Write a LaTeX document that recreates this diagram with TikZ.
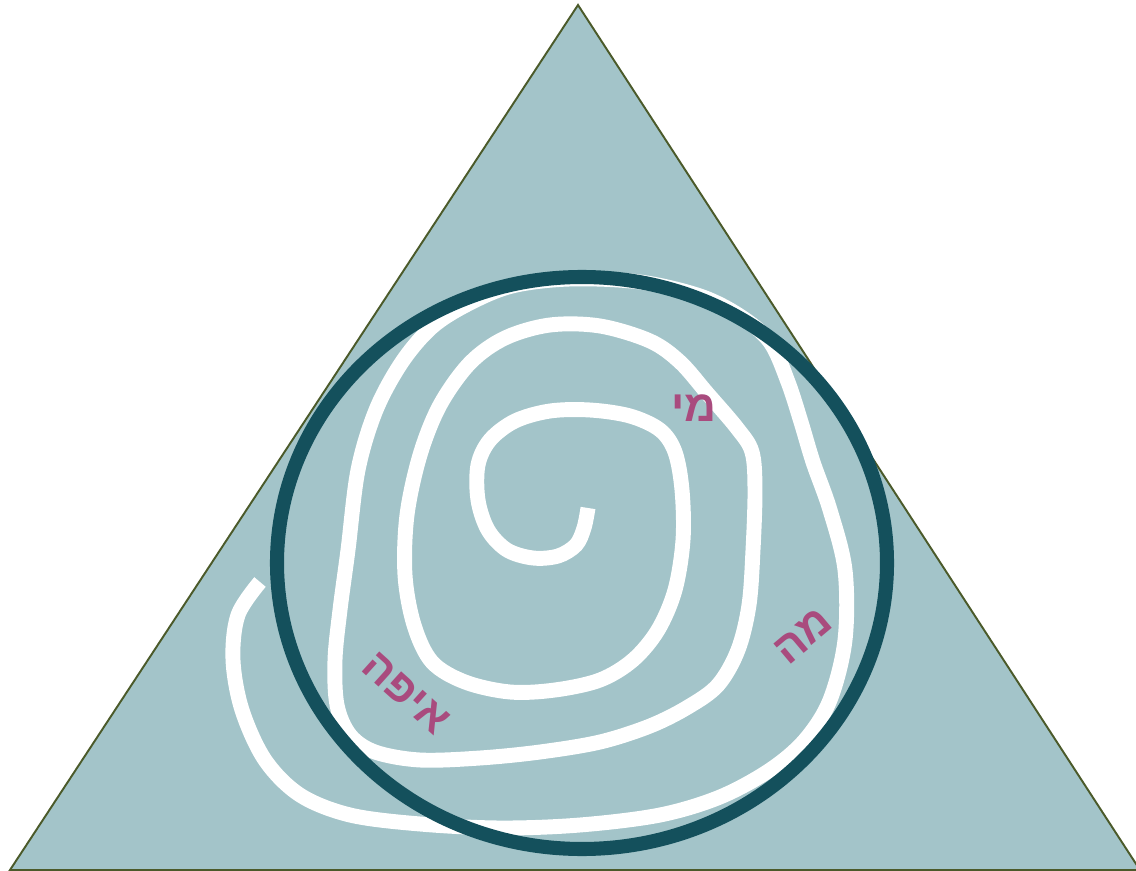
\documentclass[tikz,border=0pt]{standalone}
\usepackage{fontspec}
\newfontfamily\hebfont[Script=Hebrew]{Liberation Sans}
\TeXXeTstate=1
\usetikzlibrary{positioning}
\definecolor{trifill}{HTML}{A3C4C9}
\definecolor{triedge}{HTML}{4B5A2A}
\definecolor{ringcol}{HTML}{14505C}
\definecolor{lblcol}{HTML}{A94B7E}
\tikzset{
  tri/.style={fill=trifill,draw=triedge,line width=1.1pt},
  ring/.style={draw=ringcol,line width=8pt},
  spiral/.style={draw=white,line width=8.5pt},  % white path winding inwards
  lbl/.style={text=lblcol,font=\hebfont\bfseries\fontsize{25}{28}\selectfont,inner sep=0pt},
}
\begin{document}
\begin{tikzpicture}[x=0.02cm,y=-0.02cm]
  \useasboundingbox (0,0) rectangle (1136,871);
  % triangle
  \draw[tri] (578,5) -- (1140,870) -- (10,870) -- cycle;
  % spiral, from the inner end outwards
  \draw[spiral] plot[smooth,tension=0.55] coordinates {
    (588,508) (584,528) (576,545) (558,556) (533,558) (507,550) (488,530)
    (478,500) (478,465) (490,440) (515,421) (550,411) (590,410) (630,416)
    (660,430) (675,452) (682,490) (683,540) (675,590) (658,630) (633,660)
    (600,680) (555,690) (510,692) (465,682) (432,662) (414,625) (405,575)
    (407,515) (420,455) (440,405) (470,363) (505,338) (550,325) (600,326)
    (650,341) (680,362) (707,393) (737,428) (752,452) (755,490) (753,550)
    (749,605) (738,650) (718,685) (688,707) (650,726) (600,742) (540,752)
    (480,758) (420,760) (375,752) (350,735) (337,705) (335,660) (340,610)
    (348,550) (358,470) (376,410) (402,362) (432,327) (468,304) (512,286)
    (570,279) (640,282) (700,296) (740,316) (770,342) (788,382) (801,422)
    (813,462) (830,510) (845,570) (845,640) (830,700) (805,740) (770,770)
    (720,797) (660,815) (580,825) (500,828) (420,824) (350,815) (300,795)
    (265,760) (242,710) (233,660) (238,615) (260,582)};
  % ring over the spiral
  \draw[ring] (582,563) ellipse [x radius=305,y radius=286];
  % labels
  \node[lbl] (mi) at (694,408) {\beginR מי\endR};
  \node[lbl,rotate=40] (ma) at (803,636) {\beginR מה\endR};
  \node[lbl,rotate=-42] (eifo) at (406,693) {\beginR איפה\endR};
\end{tikzpicture}
\end{document}
